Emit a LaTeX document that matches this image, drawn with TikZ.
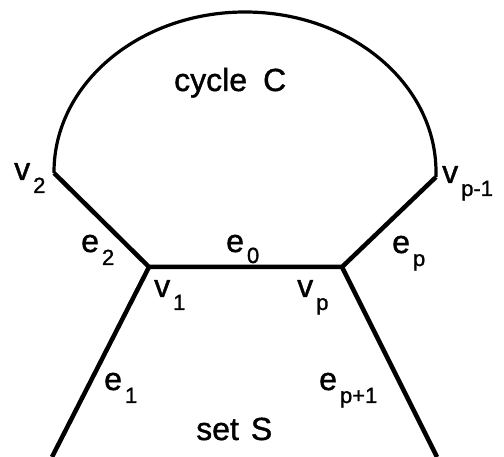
\documentclass[tikz,border=0pt]{standalone}
\usepackage{fontspec}
\setmainfont[FakeBold=1.2,AutoFakeBold=1.2]{Liberation Sans}
\newcommand\mylab[3][-13pt]{#2\hspace{3pt}\raisebox{#1}{\fontsize{22}{22}\selectfont\bfseries #3}}
\begin{document}
\begin{tikzpicture}[x=1pt,y=-1pt,
  edge/.style={line width=4.5pt,line join=miter},
  cyc/.style={line width=3.2pt},
  lbl/.style={anchor=base west,inner sep=0pt,font=\fontsize{32}{32}\selectfont\bfseries}]
\useasboundingbox (0,0) rectangle (504,457);
\coordinate (v1) at (149,267);
\coordinate (vp) at (342,267);
\coordinate (v2) at (54,173);
\coordinate (vq) at (436,177);
\coordinate (b1) at (52,457);
\coordinate (b2) at (437,457);
\draw[cyc] (vq) -- (436,172) arc[start angle=0,end angle=-180,x radius=191,y radius=160] -- (v2);
\draw[edge] (v2) -- (v1) -- (vp) -- (vq);
\draw[edge] (v1) -- (b1);
\draw[edge] (vp) -- (b2);
\node[lbl] (lc) at (174,91) {cycle\hspace{16pt}C};
\node[lbl] (lv2) at (14,180) {\mylab{v}{2}};
\node[lbl] (le2) at (81,252) {\mylab{e}{2}};
\node[lbl] (lv1) at (154,297) {\mylab{v}{1}};
\node[lbl] (le0) at (226,252) {\mylab[-11pt]{e}{0}};
\node[lbl] (lvp) at (297,297) {\mylab{v}{p}};
\node[lbl] (lep) at (392,253) {\mylab{e}{p}};
\node[lbl] (lvq) at (442,183) {\mylab{v}{p-1}};
\node[lbl] (le1) at (104,390) {\mylab{e}{1}};
\node[lbl] (lepp) at (319,390) {\mylab{e}{p+1}};
\node[lbl] (ls) at (196,440) {set\hspace{12pt}S};
\end{tikzpicture}
\end{document}
